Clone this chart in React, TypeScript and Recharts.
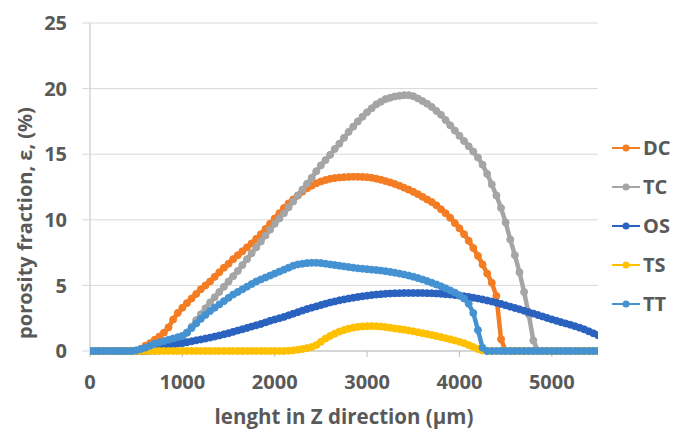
import React from "react";
import { LineChart, Line, XAxis, YAxis, CartesianGrid } from "recharts";

// x positions (µm)
const xs = [
  0, 50, 100, 150, 200, 250, 300, 350, 400, 450, 500,
  550, 600, 650, 700, 750, 800, 850, 900, 950, 1000,
  1050, 1100, 1150, 1200, 1250, 1300, 1350, 1400, 1450, 1500,
  1550, 1600, 1650, 1700, 1750, 1800, 1850, 1900, 1950, 2000,
  2050, 2100, 2150, 2200, 2250, 2300, 2350, 2400, 2450, 2500,
  2550, 2600, 2650, 2700, 2750, 2800, 2850, 2900, 2950, 3000,
  3050, 3100, 3150, 3200, 3250, 3300, 3350, 3400, 3450, 3500,
  3550, 3600, 3650, 3700, 3750, 3800, 3850, 3900, 3950, 4000,
  4050, 4100, 4150, 4200, 4250, 4300, 4350, 4400, 4450, 4500,
  4550, 4600, 4650, 4700, 4750, 4800, 4850, 4900, 4950, 5000,
  5050, 5100, 5150, 5200, 5250, 5300, 5350, 5400, 5450, 5500,
];

const dcValues = [
  0, 0, 0, 0, 0, 0, 0, 0, 0, 0, 0,
  0.15, 0.4, 0.6, 0.85, 1.1, 1.4, 1.8, 2.4, 2.9, 3.3,
  3.65, 4.0, 4.35, 4.7, 5.0, 5.3, 5.65, 6.0, 6.35, 6.65,
  7.0, 7.3, 7.6, 7.9, 8.2, 8.55, 8.9, 9.3, 9.7, 10.1,
  10.5, 10.9, 11.25, 11.55, 11.85, 12.15, 12.4, 12.6, 12.78, 12.92,
  13.03, 13.12, 13.18, 13.22, 13.25, 13.27, 13.28, 13.28, 13.27, 13.25,
  13.2, 13.13, 13.05, 12.95, 12.85, 12.73, 12.6, 12.45, 12.3, 12.13,
  11.95, 11.75, 11.55, 11.35, 11.1, 10.8, 10.5, 10.15, 9.75, 9.35,
  8.9, 8.4, 7.85, 7.25, 6.6, 5.9, 5.2, 4.2, 0.9, 0,
  0, 0, 0, 0, 0, 0, 0, 0, 0, 0,
  0, 0, 0, 0, 0, 0, 0, 0, 0, 0,
];

const tcValues = [
  0, 0, 0, 0, 0, 0, 0, 0, 0, 0, 0,
  0, 0, 0, 0, 0.1, 0.25, 0.4, 0.6, 0.8, 1.05,
  1.4, 1.85, 2.35, 2.8, 3.25, 3.7, 4.1, 4.5, 4.9, 5.3,
  5.7, 6.1, 6.55, 7.0, 7.45, 7.9, 8.35, 8.8, 9.25, 9.7,
  10.1, 10.5, 10.95, 11.4, 11.85, 12.3, 12.75, 13.2, 13.7, 14.15,
  14.55, 14.95, 15.4, 15.8, 16.25, 16.7, 17.1, 17.5, 17.85, 18.2,
  18.5, 18.8, 19.0, 19.2, 19.3, 19.4, 19.45, 19.5, 19.5, 19.42,
  19.25, 19.05, 18.85, 18.6, 18.3, 18.0, 17.6, 17.2, 16.8, 16.4,
  16.0, 15.6, 15.2, 14.75, 14.2, 13.5, 12.7, 11.85, 10.9, 9.8,
  8.5, 7.3, 6.0, 4.5, 2.8, 0.8, 0, 0, 0, 0,
  0, 0, 0, 0, 0, 0, 0, 0, 0, 0,
];

const osValues = [
  0, 0, 0, 0, 0, 0, 0, 0, 0, 0, 0,
  0, 0, 0.1, 0.2, 0.3, 0.38, 0.45, 0.5, 0.55, 0.6,
  0.67, 0.74, 0.81, 0.88, 0.95, 1.02, 1.1, 1.18, 1.27, 1.36,
  1.46, 1.56, 1.66, 1.76, 1.86, 1.96, 2.06, 2.18, 2.3, 2.4,
  2.5, 2.6, 2.72, 2.84, 2.96, 3.08, 3.2, 3.3, 3.4, 3.5,
  3.6, 3.7, 3.78, 3.86, 3.93, 4.0, 4.06, 4.12, 4.17, 4.22,
  4.26, 4.3, 4.33, 4.36, 4.38, 4.4, 4.41, 4.42, 4.42, 4.42,
  4.42, 4.42, 4.41, 4.4, 4.38, 4.36, 4.33, 4.3, 4.26, 4.22,
  4.17, 4.12, 4.06, 4.0, 3.93, 3.85, 3.77, 3.68, 3.59, 3.48,
  3.38, 3.28, 3.18, 3.07, 2.96, 2.85, 2.74, 2.63, 2.52, 2.41,
  2.3, 2.2, 2.1, 2.0, 1.89, 1.78, 1.65, 1.5, 1.35, 1.2,
];

const tsValues = [
  0, 0, 0, 0, 0, 0, 0, 0, 0, 0, 0,
  0, 0, 0, 0, 0, 0, 0, 0, 0, 0,
  0, 0, 0, 0, 0, 0, 0, 0, 0, 0,
  0, 0, 0, 0, 0, 0, 0, 0, 0, 0,
  0, 0, 0.02, 0.05, 0.1, 0.15, 0.22, 0.3, 0.45, 0.7,
  0.95, 1.15, 1.32, 1.48, 1.6, 1.7, 1.78, 1.84, 1.87, 1.89,
  1.9, 1.89, 1.86, 1.82, 1.77, 1.72, 1.67, 1.62, 1.56, 1.5,
  1.43, 1.36, 1.29, 1.22, 1.14, 1.06, 0.98, 0.89, 0.8, 0.7,
  0.59, 0.45, 0.3, 0.15, 0.03, 0, 0, 0, 0, 0,
  0, 0, 0, 0, 0, 0, 0, 0, 0, 0,
  0, 0, 0, 0, 0, 0, 0, 0, 0, 0,
];

const ttValues = [
  0, 0, 0, 0, 0, 0, 0, 0, 0, 0, 0.05,
  0.15, 0.25, 0.4, 0.55, 0.65, 0.75, 0.85, 0.95, 1.05, 1.15,
  1.4, 1.75, 2.1, 2.45, 2.75, 3.05, 3.3, 3.55, 3.8, 4.05,
  4.3, 4.5, 4.7, 4.9, 5.1, 5.3, 5.45, 5.6, 5.75, 5.9,
  6.05, 6.2, 6.35, 6.5, 6.6, 6.65, 6.7, 6.72, 6.72, 6.7,
  6.65, 6.6, 6.55, 6.5, 6.45, 6.4, 6.35, 6.3, 6.27, 6.24,
  6.2, 6.17, 6.13, 6.08, 6.03, 5.97, 5.9, 5.83, 5.75, 5.66,
  5.56, 5.45, 5.33, 5.2, 5.07, 4.93, 4.78, 4.62, 4.45, 4.25,
  4.0, 3.6, 2.9, 1.6, 0.25, 0, 0, 0, 0, 0,
  0, 0, 0, 0, 0, 0, 0, 0, 0, 0,
  0, 0, 0, 0, 0, 0, 0, 0, 0, 0,
];

const xTicks = [0, 1000, 2000, 3000, 4000, 5000];
const yTicks = [0, 5, 10, 15, 20, 25];

const seriesNames = ["DC", "TC", "OS", "TS", "TT"];
const seriesColors = ["#F47C22", "#A5A5A5", "#2A62BF", "#FFC000", "#4592D3"];
const seriesValues = [dcValues, tcValues, osValues, tsValues, ttValues];

const data = xs.map((x, i) => {
  const row: Record<string, number> = { x };
  seriesNames.forEach((n, s) => {
    row[n] = seriesValues[s][i];
  });
  return row;
});

const FONT = "'Open Sans', Lato, sans-serif";
const TEXT = "#595959";

const LegendBox = () => (
  <div
    style={{
      position: "absolute",
      left: 612,
      top: 128,
      width: 62,
      fontFamily: FONT,
    }}
  >
    {seriesNames.map((n, i) => (
      <div key={n} style={{ display: "flex", alignItems: "center", height: 39 }}>
        <svg width={30} height={12} style={{ display: "block" }}>
          <line x1={0} y1={6} x2={28} y2={6} stroke={seriesColors[i]} strokeWidth={2} />
          <circle cx={14} cy={6} r={3.5} fill={seriesColors[i]} />
        </svg>
        <span
          style={{
            fontSize: 20,
            fontWeight: 700,
            color: TEXT,
            marginLeft: 1,
            lineHeight: "20px",
          }}
        >
          {n}
        </span>
      </div>
    ))}
  </div>
);

export default function App() {
  return (
    <div style={{ position: "absolute", left: 0, top: 0, width: 674, height: 433, background: "#fff" }}>
      <LineChart
        width={674}
        height={433}
        data={data}
        margin={{ top: 23, right: 76, left: 30, bottom: 0 }}
      >
        <CartesianGrid vertical={false} stroke="#d9d9d9" strokeWidth={1} />
        <XAxis
          dataKey="x"
          type="number"
          domain={[0, 5500]}
          ticks={xTicks}
          interval={0}
          allowDataOverflow
          height={82}
          tickSize={6}
          tickMargin={18}
          axisLine={{ stroke: "#bfbfbf" }}
          tickLine={{ stroke: "#bfbfbf" }}
          tick={{ fill: TEXT, fontSize: 20, fontWeight: 700, fontFamily: FONT }}
          label={{
            content: () => (
              <text
                x={344}
                y={424}
                textAnchor="middle"
                fill={TEXT}
                fontSize={20.5}
                fontWeight={700}
                fontFamily={FONT}
              >
                lenght in Z direction (μm)
              </text>
            ),
          }}
        />
        <YAxis
          type="number"
          domain={[0, 25]}
          ticks={yTicks}
          interval={0}
          width={60}
          tickSize={8}
          tickMargin={15}
          axisLine={{ stroke: "#bfbfbf" }}
          tickLine={{ stroke: "#d9d9d9" }}
          tick={{ fill: TEXT, fontSize: 20, fontWeight: 700, fontFamily: FONT }}
          label={{
            content: () => (
              <text
                x={24}
                y={223}
                transform="rotate(-90 24 223)"
                textAnchor="middle"
                dominantBaseline="central"
                fill={TEXT}
                fontSize={20}
                fontWeight={700}
                fontFamily={FONT}
              >
                porosity fraction, ε, (%)
              </text>
            ),
          }}
        />
        {seriesNames.map((n, i) => (
          <Line
            key={n}
            dataKey={n}
            name={n}
            type="linear"
            stroke={seriesColors[i]}
            strokeWidth={4.5}
            dot={{ r: 3.5, fill: seriesColors[i], stroke: seriesColors[i], strokeWidth: 1 }}
            activeDot={false}
            isAnimationActive={false}
          />
        ))}
      </LineChart>
      <LegendBox />
    </div>
  );
}
